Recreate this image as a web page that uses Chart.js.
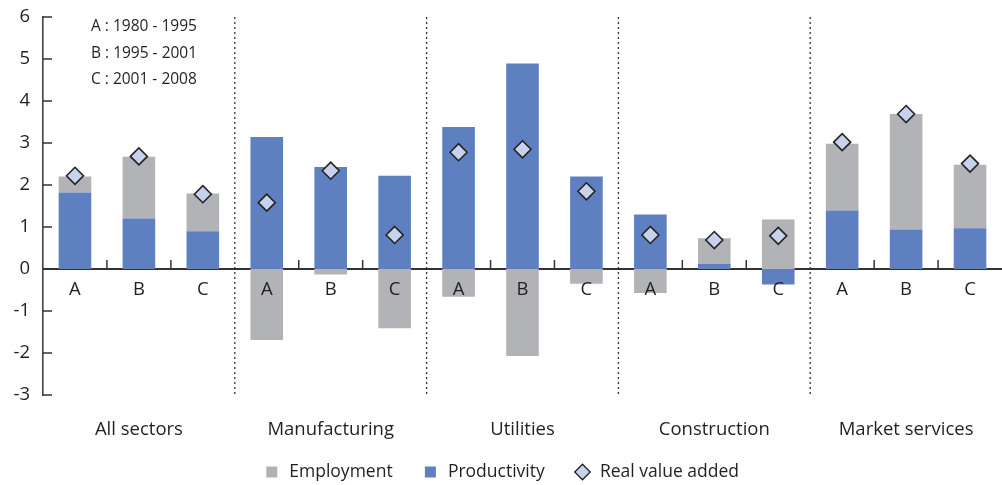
<!DOCTYPE html>
<html>
<head>
<meta charset="utf-8">
<script src="https://cdn.jsdelivr.net/npm/chart.js@4.4.1/dist/chart.umd.min.js"></script>
<style>
  html, body { margin: 0; padding: 0; background: #fff; }
  #wrap { width: 1002px; height: 485px; }
</style>
</head>
<body>
<div id="wrap"><canvas id="growth"></canvas></div>
<script>
const periods = ['A', 'B', 'C', 'A', 'B', 'C', 'A', 'B', 'C', 'A', 'B', 'C', 'A', 'B', 'C'];
const sectors = ['All sectors', 'Manufacturing', 'Utilities', 'Construction', 'Market services'];
const productivity = [1.82, 1.20, 0.90, 3.14, 2.43, 2.22, 3.38, 4.89, 2.20, 1.30, 0.12, -0.37, 1.39, 0.94, 0.97];
const employment = [0.38, 1.47, 0.90, -1.69, -0.13, -1.41, -0.66, -2.07, -0.35, -0.57, 0.61, 1.18, 1.59, 2.75, 1.51];
const valueAdded = [2.22, 2.68, 1.78, 1.58, 2.34, 0.81, 2.78, 2.85, 1.85, 0.81, 0.69, 0.79, 3.02, 3.69, 2.51];
const periodNotes = ['A : 1980 - 1995', 'B : 1995 - 2001', 'C : 2001 - 2008'];
const yMin = -3, yMax = 6;

const ink = '#231f20';
const font = 'Open Sans';
const grey = 'rgb(178,179,183)';
const blue = 'rgb(94,128,193)';
const pale = 'rgb(201,210,236)';
Chart.defaults.font.family = font;
Chart.defaults.color = ink;

// dotted group dividers, inner tick marks and the period notes
const decor = {
    id: 'decor',
    afterDatasetsDraw(chart) {
        const c = chart.ctx, x = chart.scales.x, y = chart.scales.y, area = chart.chartArea;
        const zero = y.getPixelForValue(0);
        c.save();
        c.strokeStyle = '#333';
        c.lineWidth = 1.3;
        c.setLineDash([2, 3]);
        for (let g = 1; g < sectors.length; g++) {
            const px = (x.getPixelForValue(g * 3 - 1) + x.getPixelForValue(g * 3)) / 2;
            c.beginPath();
            c.moveTo(px, area.top);
            c.lineTo(px, area.bottom);
            c.stroke();
        }
        c.setLineDash([]);
        c.lineWidth = 1.5;
        for (let i = 0; i < periods.length - 1; i++) {
            if (i % 3 === 2) continue;
            const px = (x.getPixelForValue(i) + x.getPixelForValue(i + 1)) / 2;
            c.beginPath();
            c.moveTo(px, zero);
            c.lineTo(px, zero - 9);
            c.stroke();
        }
        for (let v = yMin; v <= yMax; v++) {
            const py = y.getPixelForValue(v);
            c.beginPath();
            c.moveTo(area.left, py);
            c.lineTo(area.left + 9, py);
            c.stroke();
        }
        c.fillStyle = ink;
        c.font = '15.5px "' + font + '"';
        c.textBaseline = 'middle';
        periodNotes.forEach((t, i) => c.fillText(t, area.left + 48, 27 + i * 26.5));
        c.restore();
    }
};

new Chart(document.getElementById('growth'), {
    data: {
        labels: periods,
        datasets: [{
            type: 'bar',
            label: 'Productivity',
            data: productivity,
            backgroundColor: blue,
            barPercentage: 0.51,
            categoryPercentage: 1,
            order: 1
        }, {
            type: 'bar',
            label: 'Employment',
            data: employment,
            backgroundColor: grey,
            barPercentage: 0.51,
            categoryPercentage: 1,
            order: 1
        }, {
            type: 'line',
            label: 'Real value added',
            data: valueAdded,
            showLine: false,
            pointStyle: 'rectRot',
            pointRadius: 8.5,
            pointHoverRadius: 8.5,
            pointBackgroundColor: pale,
            pointBorderColor: '#222',
            pointBorderWidth: 1.6,
            backgroundColor: pale,
            borderColor: '#222',
            order: 0
        }]
    },
    options: {
        responsive: true,
        maintainAspectRatio: false,
        animation: false,
        layout: { autoPadding: false, padding: { top: 17, right: 0, left: 0, bottom: -5.75 } },
        plugins: {
            tooltip: { enabled: false },
            legend: {
                position: 'bottom',
                // empty title only reserves the room taken by the sector names
                title: { display: true, text: '', font: { size: 10, lineHeight: 1 }, padding: { top: 29.25, bottom: 0 } },
                labels: {
                    usePointStyle: true,
                    boxHeight: 11,
                    padding: 29,
                    font: { size: 17.5, lineHeight: 1 },
                    color: ink,
                    generateLabels(chart) {
                        const items = [
                            { datasetIndex: 1, fillStyle: grey, strokeStyle: grey, lineWidth: 0, pointStyle: 'rect' },
                            { datasetIndex: 0, fillStyle: blue, strokeStyle: blue, lineWidth: 0, pointStyle: 'rect' },
                            { datasetIndex: 2, fillStyle: pale, strokeStyle: '#222', lineWidth: 1.3, pointStyle: 'rectRot' }
                        ];
                        return items.map(it => Object.assign({ fontColor: ink, text: chart.data.datasets[it.datasetIndex].label }, it));
                    }
                }
            }
        },
        scales: {
            x: {
                type: 'category',
                stacked: true,
                offset: true,
                position: { y: 0 },
                grid: { display: false, drawTicks: false },
                border: { display: true, color: '#333', width: 2 },
                ticks: { font: { size: 18.5 }, color: ink, padding: 10, maxRotation: 0, autoSkip: false, z: 1 }
            },
            x2: {
                type: 'category',
                labels: sectors,
                position: { y: yMin },
                offset: true,
                grid: { display: false, drawTicks: false },
                border: { display: false },
                ticks: { font: { size: 18.5, lineHeight: 1.1 }, color: ink, padding: 24.8, maxRotation: 0 }
            },
            y: {
                stacked: true,
                min: yMin,
                max: yMax,
                afterFit(scale) {
                    scale.width = 43;
                    scale.paddingTop = 0;
                    scale.paddingBottom = 0;
                },
                grid: { display: false, drawTicks: false },
                border: { display: true, color: '#444', width: 1.6 },
                ticks: { stepSize: 1, font: { size: 18.5 }, color: ink, padding: 13 }
            }
        }
    },
    plugins: [decor]
});
</script>
</body>
</html>
